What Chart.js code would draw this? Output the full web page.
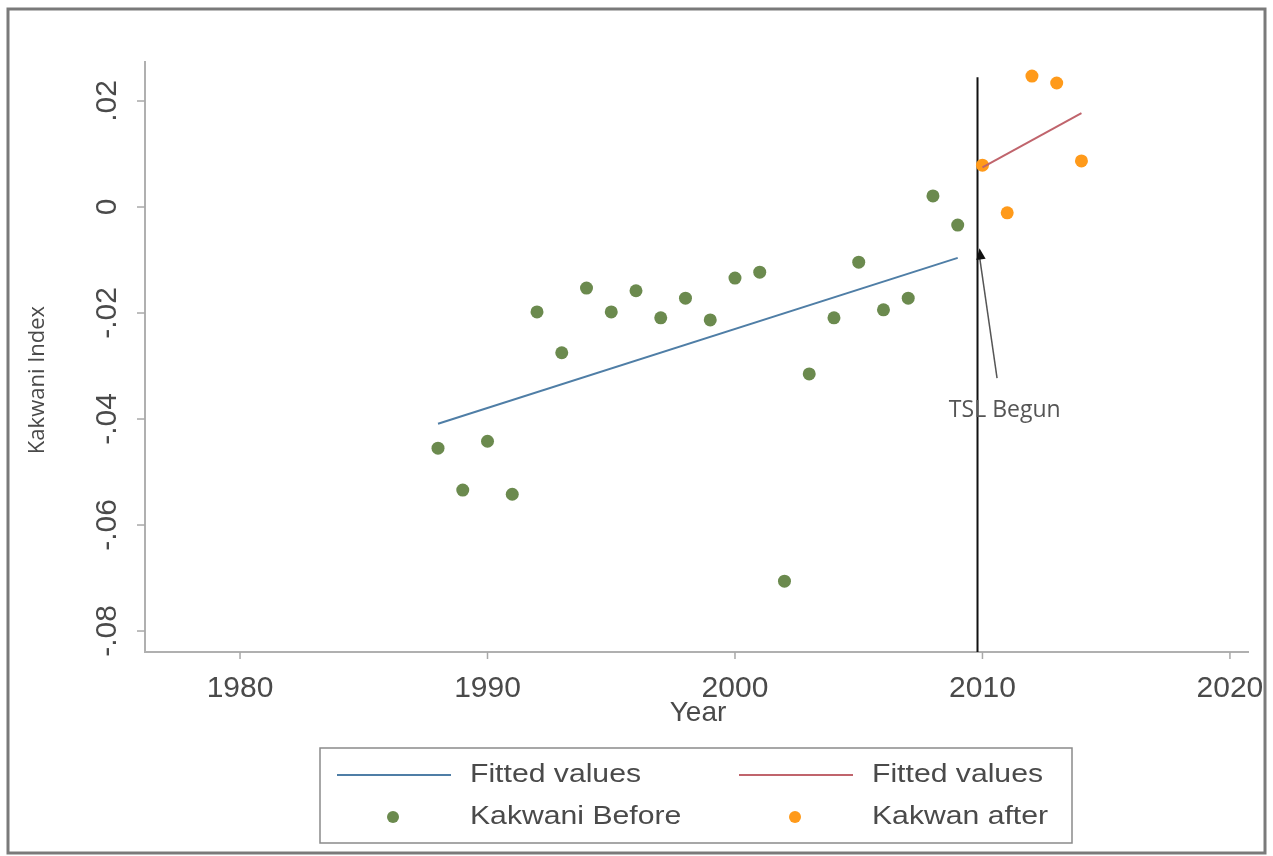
<!DOCTYPE html>
<html>
<head>
<meta charset="utf-8">
<script src="https://cdn.jsdelivr.net/npm/chart.js@4.4.1/dist/chart.umd.min.js"></script>
<style>
  html, body { margin: 0; padding: 0; background: #fff; }
  #wrap { width: 1273px; height: 856px; position: relative; }
</style>
</head>
<body>
<div id="wrap"><canvas id="kakwaniChart"></canvas></div>
<script>
// data
const beforeYears = [1988, 1989, 1990, 1991, 1992, 1993, 1994, 1995, 1996, 1997, 1998,
  1999, 2000, 2001, 2002, 2003, 2004, 2005, 2006, 2007, 2008, 2009];
const beforeValues = [-0.0455, -0.0534, -0.0442, -0.0542, -0.0198, -0.0275, -0.0153, -0.0198,
  -0.0158, -0.0209, -0.0172, -0.0213, -0.0134, -0.0123, -0.0706, -0.0315, -0.0209, -0.0104,
  -0.0194, -0.0172, 0.0021, -0.0034];
const afterYears = [2010, 2011, 2012, 2013, 2014];
const afterValues = [0.0079, -0.0011, 0.0247, 0.0234, 0.0087];
const fitBeforeYears = [1988, 2009];
const fitBeforeValues = [-0.0409, -0.0096];
const fitAfterYears = [2010, 2014];
const fitAfterValues = [0.0075, 0.0177];
const xTicks = [1980, 1990, 2000, 2010, 2020];
const yTicks = [0.02, 0, -0.02, -0.04, -0.06, -0.08];
const yTickLabels = ['.02', '0', '-.02', '-.04', '-.06', '-.08'];
const tslYear = 2009.8;
const tslTop = 0.0245;

const GREEN = '#6b8a4e';
const ORANGE = '#ff9a1a';
const BLUE = '#4f7ea6';
const RED = '#c0646c';
const TXT = '#4a4a4a';
const SANS = '"Liberation Sans", Arial, sans-serif';

function pts(xs, ys) {
  return xs.map((x, i) => ({ x: x, y: ys[i] }));
}

// text stretched sideways a bit, like the legend in the picture
function wideText(ctx, text, x, y, sx) {
  ctx.save();
  ctx.translate(x, y);
  ctx.scale(sx, 1);
  ctx.fillText(text, 0, 0);
  ctx.restore();
}

const decorations = {
  id: 'decorations',
  beforeDraw(chart) {
    const ctx = chart.ctx;
    ctx.save();
    ctx.fillStyle = '#fff';
    ctx.fillRect(0, 0, chart.width, chart.height);
    ctx.strokeStyle = '#7a7a7a';
    ctx.lineWidth = 3;
    ctx.strokeRect(8, 9, 1257, 844);
    ctx.restore();
  },
  afterDraw(chart) {
    const ctx = chart.ctx;
    const xs = chart.scales.x;
    const ys = chart.scales.y;
    const area = chart.chartArea;
    ctx.save();

    // axis tick marks + labels
    ctx.strokeStyle = '#a8a8a8';
    ctx.lineWidth = 1.5;
    ctx.fillStyle = TXT;
    ctx.font = '30px ' + SANS;
    ctx.textAlign = 'center';
    ctx.textBaseline = 'middle';
    xTicks.forEach(t => {
      const px = xs.getPixelForValue(t);
      ctx.beginPath();
      ctx.moveTo(px, area.bottom);
      ctx.lineTo(px, area.bottom + 7);
      ctx.stroke();
      ctx.fillText(String(t), px, area.bottom + 37);
    });
    yTicks.forEach((t, i) => {
      const py = ys.getPixelForValue(t);
      ctx.beginPath();
      ctx.moveTo(area.left, py);
      ctx.lineTo(area.left - 8, py);
      ctx.stroke();
      ctx.save();
      ctx.translate(area.left - 37, py);
      ctx.rotate(-Math.PI / 2);
      ctx.fillText(yTickLabels[i], 0, 0);
      ctx.restore();
    });

    // axis titles
    ctx.font = '28px ' + SANS;
    ctx.fillText('Year', 698, 713);
    ctx.save();
    ctx.translate(38, 380);
    ctx.rotate(-Math.PI / 2);
    ctx.font = '22px "Open Sans", "DejaVu Sans", sans-serif';
    ctx.fillText('Kakwani Index', 0, 0);
    ctx.restore();

    // arrow + annotation
    const ax0 = xs.getPixelForValue(2010.59), ay0 = ys.getPixelForValue(-0.0323);
    const ax1 = xs.getPixelForValue(2009.88), ay1 = ys.getPixelForValue(-0.0078);
    ctx.strokeStyle = '#555';
    ctx.lineWidth = 1.5;
    ctx.beginPath();
    ctx.moveTo(ax0, ay0);
    ctx.lineTo(ax1, ay1 + 8);
    ctx.stroke();
    const ang = Math.atan2(ay1 - ay0, ax1 - ax0);
    ctx.fillStyle = '#111';
    ctx.beginPath();
    ctx.moveTo(ax1, ay1);
    ctx.lineTo(ax1 - 12 * Math.cos(ang - 0.4), ay1 - 12 * Math.sin(ang - 0.4));
    ctx.lineTo(ax1 - 12 * Math.cos(ang + 0.4), ay1 - 12 * Math.sin(ang + 0.4));
    ctx.closePath();
    ctx.fill();
    ctx.fillStyle = '#555';
    ctx.font = '23px "Open Sans", "DejaVu Sans", sans-serif';
    ctx.fillText('TSL Begun', xs.getPixelForValue(2010.9), ys.getPixelForValue(-0.0383));

    // legend box
    ctx.strokeStyle = '#8a8a8a';
    ctx.lineWidth = 1.5;
    ctx.strokeRect(320, 748, 752, 95);
    ctx.font = '26px ' + SANS;
    ctx.textAlign = 'left';
    ctx.fillStyle = TXT;
    const ds = chart.data.datasets;
    const items = [
      { ds: 0, x: 337, y: 775, line: true },
      { ds: 1, x: 739, y: 775, line: true },
      { ds: 2, x: 337, y: 817, line: false },
      { ds: 3, x: 739, y: 817, line: false }
    ];
    items.forEach(it => {
      const d = ds[it.ds];
      if (it.line) {
        ctx.strokeStyle = d.borderColor;
        ctx.lineWidth = 2;
        ctx.beginPath();
        ctx.moveTo(it.x, it.y);
        ctx.lineTo(it.x + 114, it.y);
        ctx.stroke();
      } else {
        ctx.fillStyle = d.backgroundColor;
        ctx.beginPath();
        ctx.arc(it.x + 56, it.y, 6, 0, Math.PI * 2);
        ctx.fill();
      }
      ctx.fillStyle = TXT;
      wideText(ctx, d.label, it.x + 133, it.y, 1.16);
    });
    ctx.restore();
  }
};

new Chart(document.getElementById('kakwaniChart'), {
  type: 'scatter',
  data: {
    datasets: [
      { type: 'line', label: 'Fitted values', data: pts(fitBeforeYears, fitBeforeValues),
        borderColor: BLUE, borderWidth: 2, pointRadius: 0, fill: false },
      { type: 'line', label: 'Fitted values', data: pts(fitAfterYears, fitAfterValues),
        borderColor: RED, borderWidth: 2, pointRadius: 0, fill: false },
      { label: 'Kakwani Before', data: pts(beforeYears, beforeValues),
        backgroundColor: GREEN, borderColor: GREEN, pointRadius: 6.5, borderWidth: 0 },
      { label: 'Kakwan after', data: pts(afterYears, afterValues),
        backgroundColor: ORANGE, borderColor: ORANGE, pointRadius: 6.5, borderWidth: 0 },
      { type: 'line', label: 'TSL', data: pts([tslYear, tslYear], [tslTop, -0.08396]),
        borderColor: '#111', borderWidth: 2, pointRadius: 0, fill: false }
    ]
  },
  options: {
    responsive: true,
    maintainAspectRatio: false,
    animation: false,
    layout: { padding: { left: 145, top: 62, right: 25, bottom: 204 } },
    scales: {
      x: {
        type: 'linear', min: 1976.16, max: 2020.73,
        grid: { display: false, drawTicks: false },
        border: { display: true, color: '#b0b0b0', width: 2 },
        ticks: { display: false }
      },
      y: {
        type: 'linear', min: -0.08396, max: 0.02736,
        grid: { display: false, drawTicks: false },
        border: { display: true, color: '#b0b0b0', width: 2 },
        ticks: { display: false }
      }
    },
    plugins: {
      legend: { display: false },
      tooltip: { enabled: false }
    }
  },
  plugins: [decorations]
});
</script>
</body>
</html>
